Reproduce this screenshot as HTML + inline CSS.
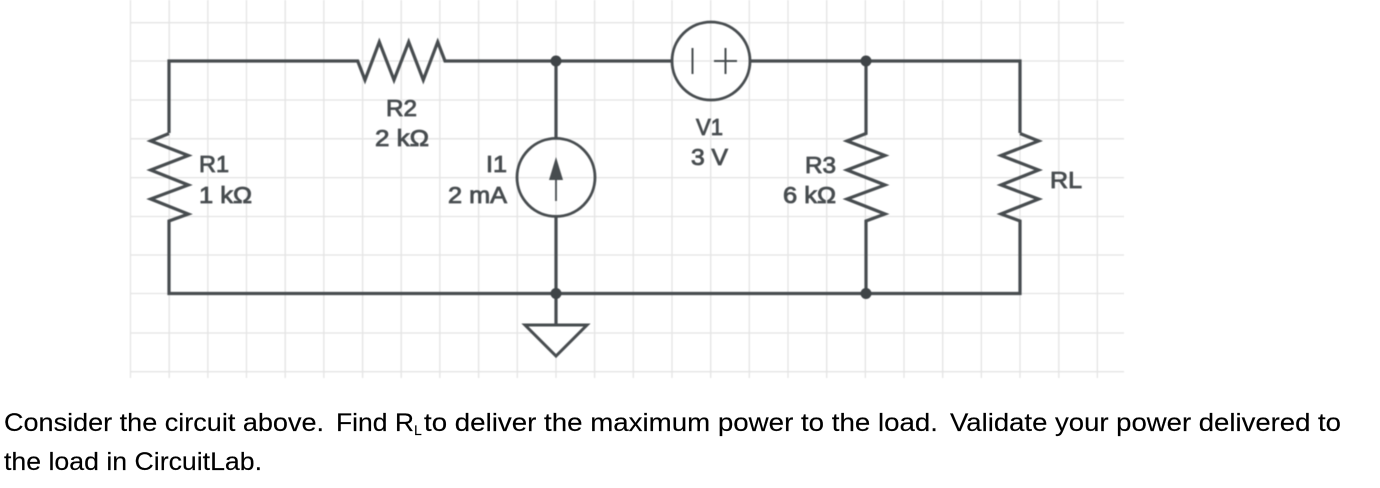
<!DOCTYPE html>
<html><head><meta charset="utf-8"><style>
html,body{margin:0;padding:0;background:#fff;width:1380px;height:488px;overflow:hidden}
svg{display:block}
.c{filter:blur(.45px)}
.l{font-family:"Liberation Sans",sans-serif;font-size:23.5px;fill:#474c4f;stroke:#474c4f;stroke-width:.85px}
.t{font-family:"Liberation Sans",sans-serif;font-size:25px;fill:#000;stroke:#000;stroke-width:.15px}
</style></head><body>
<svg width="1380" height="488" viewBox="0 0 1380 488" xmlns="http://www.w3.org/2000/svg">
<g class="c">
<g stroke="#e4e4e4" stroke-width="1.3" fill="none">
<path d="M130.5 0V378M169.2 0V378M207.9 0V378M246.5 0V378M285.2 0V378M323.9 0V378M362.6 0V378M401.2 0V378M439.9 0V378M478.6 0V378M517.3 0V378M556 0V378M594.6 0V378M633.3 0V378M672 0V378M710.7 0V378M749.3 0V378M788 0V378M826.7 0V378M865.4 0V378M904 0V378M942.7 0V378M981.4 0V378M1020 0V378M1058.8 0V378M1097.4 0V378"/>
<path d="M130 22.7H1124M130 61H1124M130 100H1124M130 138.8H1124M130 177.6H1124M130 216.5H1124M130 255H1124M130 293.5H1124M130 333H1124M130 371.7H1124"/>
</g>
<g stroke="#474c4f" fill="none" stroke-width="3.2" stroke-linejoin="miter">
<path d="M169 133V61H357.7L365 80L379.3 42L394 80L408.7 42L423.3 80L437.7 42L445 61H672M750 61H1020V133"/>
<path d="M169 133.5L150.7 141L188.3 155.5L150.7 170L188.3 185L150.7 199L188.3 214L169 221V293.5H1020V221L1001 214L1038.6 199L1001 185L1038.6 170L1001 155.5L1038.6 141L1020 133.5"/>
<path d="M866 61V133.5L847 141L885 155.5L847 170L885 185L847 199L885 214L866 221V293.5"/>
<path d="M556 61V138M556 217V324"/>
<circle cx="556" cy="177.4" r="39" stroke-width="2.8"/>
<circle cx="711" cy="61" r="39" stroke-width="2.8"/>
<path d="M525 325H587L556 356Z" stroke-width="3" fill="#fff"/>
<path d="M556 180V201" stroke-width="1.8"/>
<path d="M692.5 48V74M714 61H737M725.5 48V74" stroke-width="2"/>
</g>
<path d="M556 157L563 180H549Z" fill="#474c4f"/>
<g fill="#3f4447">
<circle cx="556" cy="61" r="5.5"/><circle cx="866" cy="61" r="5.5"/>
<circle cx="556" cy="293.5" r="5.5"/><circle cx="866" cy="293.5" r="5.5"/>
</g>
<g class="l">
<text x="199" y="172" textLength="30" lengthAdjust="spacingAndGlyphs">R1</text><text x="199" y="203" textLength="53" lengthAdjust="spacingAndGlyphs">1 kΩ</text>
<text x="386" y="116" textLength="31" lengthAdjust="spacingAndGlyphs">R2</text><text x="375" y="146" textLength="54" lengthAdjust="spacingAndGlyphs">2 kΩ</text>
<text x="486" y="172" textLength="21" lengthAdjust="spacingAndGlyphs">I1</text><text x="448" y="203" textLength="59" lengthAdjust="spacingAndGlyphs">2 mA</text>
<text x="696" y="135" textLength="27" lengthAdjust="spacingAndGlyphs">V1</text><text x="691" y="165" textLength="37" lengthAdjust="spacingAndGlyphs">3 V</text>
<text x="805" y="173" textLength="31" lengthAdjust="spacingAndGlyphs">R3</text><text x="783" y="203" textLength="53" lengthAdjust="spacingAndGlyphs">6 kΩ</text>
<text x="1050" y="188" textLength="32" lengthAdjust="spacingAndGlyphs">RL</text>
</g>
</g>
<g class="t">
<text x="4" y="431" textLength="320" lengthAdjust="spacingAndGlyphs">Consider the circuit above.</text>
<text x="336" y="431" textLength="78" lengthAdjust="spacingAndGlyphs">Find R</text>
<text x="414" y="435" font-size="14">L</text>
<text x="424" y="431" textLength="514" lengthAdjust="spacingAndGlyphs">to deliver the maximum power to the load.</text>
<text x="950" y="431" textLength="391" lengthAdjust="spacingAndGlyphs">Validate your power delivered to</text>
<text x="4" y="470" textLength="258" lengthAdjust="spacingAndGlyphs">the load in CircuitLab.</text>
</g>
</svg>
</body></html>
